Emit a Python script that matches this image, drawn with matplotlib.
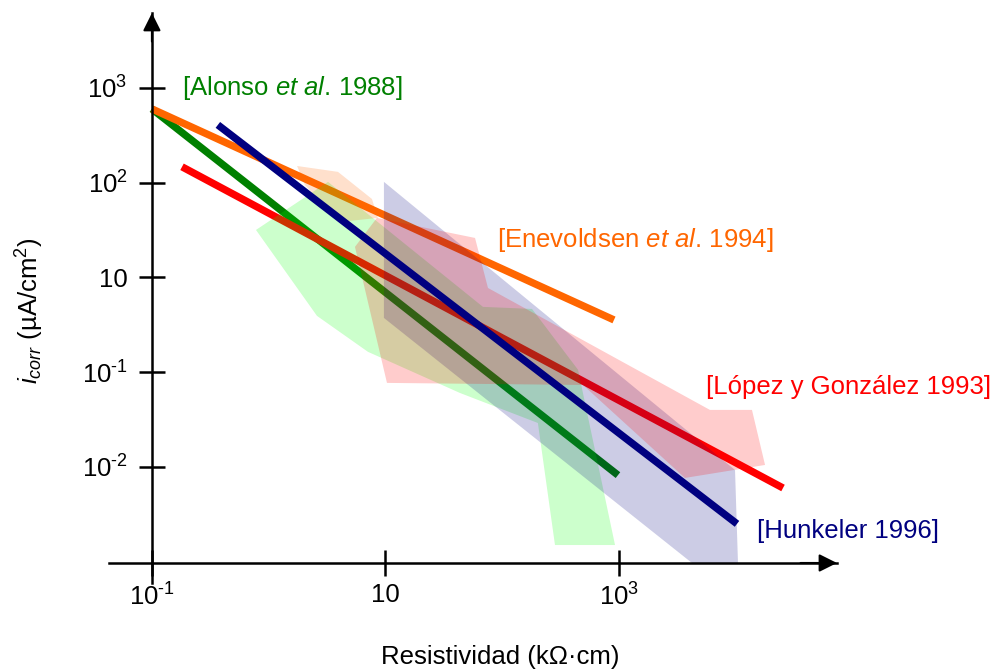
import matplotlib
matplotlib.use("Agg")
import matplotlib.pyplot as plt
from matplotlib.ticker import NullLocator

plt.rcParams["font.family"] = ["Liberation Sans", "DejaVu Sans"]
plt.rcParams["mathtext.fontset"] = "custom"
plt.rcParams["mathtext.rm"] = "Liberation Sans"
plt.rcParams["mathtext.it"] = "Liberation Sans:italic"
plt.rcParams["mathtext.bf"] = "Liberation Sans:bold"
plt.rcParams["mathtext.default"] = "regular"

# Regression lines (resistivity kOhm*cm, icorr uA/cm2)
alonso_x = [0.1, 980]
alonso_y = [600, 0.082]
enevoldsen_x = [0.1, 906]
enevoldsen_y = [600, 3.56]
hunkeler_x = [0.367, 10250]
hunkeler_y = [407, 0.0251]
lopez_x = [0.181, 25400]
lopez_y = [147, 0.060]

# Scatter envelopes of each data set
alonso_area_x = [0.778, 3.22, 68.4, 180, 446, 925, 283, 202, 43.4, 7.08, 2.59]
alonso_area_y = [31.7, 102, 4.89, 4.65, 1.06, 0.015, 0.015, 0.291, 0.604, 1.64, 3.93]
enevoldsen_area_x = [1.75, 3.92, 7.66, 8.63, 4.07, 2.04]
enevoldsen_area_y = [150, 130, 67.3, 42.5, 38.5, 94.6]
hunkeler_area_x = [9.70, 9860, 10450, 4220, 9.70]
hunkeler_area_y = [102, 0.0929, 0.0097, 0.0097, 3.74]
lopez_area_x = [10.3, 5.48, 8.45, 58.5, 75.5, 6010, 13770, 17820, 3670, 492]
lopez_area_y = [0.771, 21.0, 42.5, 26.1, 7.74, 0.400, 0.400, 0.105, 0.0766, 0.733]

x_ticks = [0.1, 10, 1000]
x_tick_labels = ["10$^{\\text{-}1}$", "10", "10$^{3}$"]
y_ticks = [1000, 100, 10, 1, 0.1]
y_tick_labels = ["10$^{3}$", "10$^{2}$", "10", "10$^{\\text{-}1}$", "10$^{\\text{-}2}$"]

GREEN = "#008000"
ORANGE = "#ff6600"
NAVY = "#000080"
RED = "#ff0000"

fig = plt.figure(figsize=(10.02, 6.7), dpi=100)
ax = fig.add_axes([0.1088, 0.1299, 0.7265, 0.8507])
ax.set_xscale("log")
ax.set_yscale("log")
ax.set_xlim(0.0429, 73600)
ax.set_ylim(0.00597, 6170)

lw = 5.3
ax.plot(alonso_x, alonso_y, color=GREEN, lw=lw, solid_capstyle="butt", zorder=1)
ax.plot(enevoldsen_x, enevoldsen_y, color=ORANGE, lw=lw, solid_capstyle="butt", zorder=1)
ax.plot(lopez_x, lopez_y, color=RED, lw=lw, solid_capstyle="butt", zorder=1)

ax.fill(alonso_area_x, alonso_area_y, color="#00ff00", alpha=0.2, lw=0, zorder=2)
ax.fill(enevoldsen_area_x, enevoldsen_area_y, color=ORANGE, alpha=0.2, lw=0, zorder=2)
ax.fill(hunkeler_area_x, hunkeler_area_y, color=NAVY, alpha=0.2, lw=0, zorder=2)
ax.fill(lopez_area_x, lopez_area_y, color=RED, alpha=0.2, lw=0, zorder=2)

ax.plot(hunkeler_x, hunkeler_y, color=NAVY, lw=lw, solid_capstyle="butt", zorder=3)

# axes drawn as arrows through the origin
for side in ["top", "right"]:
    ax.spines[side].set_visible(False)
ax.spines["bottom"].set_position(("data", 0.0097))
ax.spines["left"].set_position(("data", 0.1))
for side in ["bottom", "left"]:
    ax.spines[side].set_linewidth(1.8)

arrow = dict(arrowstyle="-|>", color="black", lw=1.5, mutation_scale=27,
             shrinkA=0, shrinkB=0)
ax.annotate("", xy=(1.0, 0.0097), xycoords=("axes fraction", "data"),
            xytext=(0.95, 0.0097), textcoords=("axes fraction", "data"),
            arrowprops=arrow, annotation_clip=False)
ax.annotate("", xy=(0.1, 1.0), xycoords=("data", "axes fraction"),
            xytext=(0.1, 0.95), textcoords=("data", "axes fraction"),
            arrowprops=arrow, annotation_clip=False)

ax.xaxis.set_minor_locator(NullLocator())
ax.yaxis.set_minor_locator(NullLocator())
ax.set_xticks(x_ticks)
ax.set_xticklabels(x_tick_labels)
ax.set_yticks(y_ticks)
ax.set_yticklabels(y_tick_labels)
ax.tick_params(direction="inout", length=19, width=1.8, labelsize=18.5)
ax.tick_params(axis="x", pad=5)
ax.tick_params(axis="y", pad=8)

fs = 18.5
ax.text(0.181, 1000, "[Alonso $\\mathit{et\\ al}$. 1988]", color=GREEN,
        fontsize=fs, va="center", ha="left")
ax.text(90, 24.9, "[Enevoldsen $\\mathit{et\\ al}$. 1994]", color=ORANGE,
        fontsize=fs, va="center", ha="left")
ax.text(5560, 0.698, "[López y González 1993]", color=RED,
        fontsize=fs, va="center", ha="left", clip_on=False)
ax.text(15200, 0.0211, "[Hunkeler 1996]", color=NAVY,
        fontsize=fs, va="center", ha="left", clip_on=False)

fig.text(500 / 1002, 1 - 657 / 670, "Resistividad (kΩ·cm)", fontsize=fs,
         ha="center", va="center")
fig.text(30 / 1002, 1 - 311 / 670, "$\\mathit{i}_{\\mathit{corr}}$ (µA/cm$^{2}$)",
         fontsize=fs, ha="center", va="center", rotation=90)

fig.savefig("out.png", dpi=100)
